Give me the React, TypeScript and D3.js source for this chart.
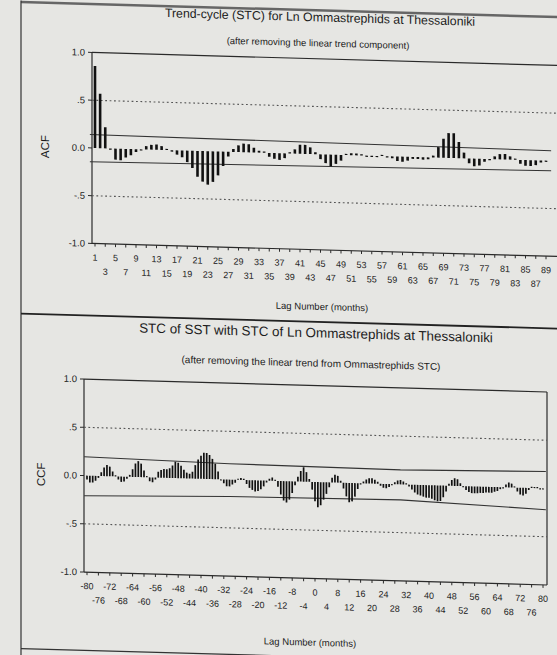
import * as d3 from "d3";

// ACF of the trend-cycle, lags 1..89
const acfValues = [
    0.86, 0.57, 0.22, -0.01, -0.115, -0.12, -0.09, -0.065, -0.03, -0.01,
    0.035, 0.05, 0.055, 0.04, 0.0, -0.015, -0.045, -0.07, -0.12, -0.18,
    -0.27, -0.32, -0.35, -0.32, -0.25, -0.15, -0.05, 0.03, 0.07, 0.09,
    0.085, 0.05, 0.02, 0.0, -0.04, -0.06, -0.07, -0.05, 0.0, 0.045,
    0.095, 0.095, 0.07, 0.02, -0.05, -0.09, -0.12, -0.095, -0.06, 0.0,
    0.02, 0.02, 0.0, -0.01, -0.01, -0.01, 0.0, -0.01, -0.02, -0.048,
    -0.053, -0.04, -0.02, -0.02, -0.025, -0.02, 0.02, 0.11, 0.2, 0.26,
    0.26, 0.17, 0.06, -0.05, -0.08, -0.07, -0.03, -0.01, 0.03, 0.055,
    0.057, 0.034, 0.01, -0.04, -0.06, -0.06, -0.05, -0.02, -0.01,
];
const acfLags = acfValues.map((_, i) => i + 1);
const acfTicksRow1 = [1, 5, 9, 13, 17, 21, 25, 29, 33, 37, 41, 45, 49, 53, 57, 61, 65, 69, 73, 77, 81, 85, 89];
const acfTicksRow2 = [3, 7, 11, 15, 19, 23, 27, 31, 35, 39, 43, 47, 51, 55, 59, 63, 67, 71, 75, 79, 83, 87];
const acfConfLags = [0, 90];
const acfConfUpper = [0.14, 0.105];
const acfConfLower = [-0.145, -0.105];

// CCF of SST STC with Ln Ommastrephids STC, lags -80..80
const ccfValues = [
    -0.04, -0.07, -0.07, -0.05, -0.02, 0.04, 0.09, 0.115, 0.1, 0.05,
    0.01, -0.03, -0.055, -0.05, -0.02, 0.02, 0.08, 0.14, 0.165, 0.14,
    0.07, 0.01, -0.04, -0.05, -0.02, 0.06, 0.08, 0.09, 0.09, 0.1,
    0.13, 0.17, 0.16, 0.13, 0.09, 0.06, 0.05, 0.07, 0.14, 0.2,
    0.24, 0.27, 0.27, 0.25, 0.21, 0.16, 0.08, -0.01, -0.04, -0.07,
    -0.07, -0.05, -0.03, 0.0, 0.02, 0.01, -0.04, -0.08, -0.1, -0.115,
    -0.11, -0.09, -0.06, -0.02, 0.02, 0.035, 0.0, -0.06, -0.14, -0.2,
    -0.22, -0.19, -0.12, -0.04, 0.05, 0.11, 0.15, 0.1, 0.03, -0.08,
    -0.2, -0.26, -0.24, -0.18, -0.12, -0.05, 0.05, 0.08, 0.07, 0.02,
    -0.06, -0.14, -0.2, -0.19, -0.14, -0.06, -0.01, 0.02, 0.04, 0.055,
    0.055, 0.04, 0.02, -0.02, -0.04, -0.045, -0.03, -0.01, 0.02, 0.04,
    0.045, 0.03, 0.01, -0.02, -0.05, -0.08, -0.1, -0.11, -0.12, -0.13,
    -0.13, -0.14, -0.155, -0.165, -0.16, -0.12, -0.06, 0.02, 0.06, 0.08,
    0.07, 0.03, -0.01, -0.04, -0.06, -0.07, -0.07, -0.07, -0.065, -0.065,
    -0.06, -0.06, -0.06, -0.05, -0.04, -0.02, -0.01, 0.03, 0.05, 0.04,
    0.01, -0.04, -0.07, -0.08, -0.06, -0.02, 0.01, 0.01, 0.0, -0.01,
    -0.01,
];
const ccfLags = ccfValues.map((_, i) => i - 80);
const ccfTicksRow1 = [-80, -72, -64, -56, -48, -40, -32, -24, -16, -8, 0, 8, 16, 24, 32, 40, 48, 56, 64, 72, 80];
const ccfTicksRow2 = [-76, -68, -60, -52, -44, -36, -28, -20, -12, -4, 4, 12, 20, 28, 36, 44, 52, 60, 68, 76];
const ccfConfLags = [-81, -30, 30, 81];
const ccfConfUpper = [0.195, 0.165, 0.15, 0.175];
const ccfConfLower = [-0.21, -0.175, -0.16, -0.22];

const yTicks = [1, 0.5, 0, -0.5, -1];
const yTickLabels = ["1.0", ".5", "0.0", "-.5", "-1.0"];

const FONT = "'Liberation Sans', Arial, sans-serif";
const INK = "#1c1c1c";
const BG = "#e6e6e3";

interface PlotProps {
    lags: number[];
    values: number[];
    row1: number[];
    row2: number[];
    confLags: number[];
    confUpper: number[];
    confLower: number[];
    x: d3.ScaleLinear<number, number>;
    y: d3.ScaleLinear<number, number>;
    left: number;
    right: number;
    barWidth: number;
    yLabel: string;
    yLabelX: number;
    showRight: boolean;
}

function CorrPlot({
    lags,
    values,
    row1,
    row2,
    confLags,
    confUpper,
    confLower,
    x,
    y,
    left,
    right,
    barWidth,
    yLabel,
    yLabelX,
    showRight,
}: PlotProps) {
    const top = y(1);
    const bottom = y(-1);
    const zero = y(0);

    const line = d3
        .line<[number, number]>()
        .x((d) => x(d[0]))
        .y((d) => y(d[1]));

    const upper = line(confLags.map((l, i) => [l, confUpper[i]]));
    const lower = line(confLags.map((l, i) => [l, confLower[i]]));

    return (
        <g>
            {/* frame */}
            <line x1={left} x2={right} y1={top} y2={top} stroke="#2a2a2a" strokeWidth={1.2} />
            <line x1={left} x2={right} y1={bottom} y2={bottom} stroke="#2a2a2a" strokeWidth={1.2} />
            <line x1={left} x2={left} y1={top} y2={bottom} stroke="#2a2a2a" strokeWidth={1.2} />
            {showRight && (
                <line x1={right} x2={right} y1={top} y2={bottom} stroke="#2a2a2a" strokeWidth={1.2} />
            )}

            {/* reference lines at +-.5 */}
            {[0.5, -0.5].map((v) => (
                <line
                    key={v}
                    x1={left}
                    x2={right}
                    y1={y(v)}
                    y2={y(v)}
                    stroke="#555"
                    strokeWidth={1.1}
                    strokeDasharray="1.8,2.6"
                />
            ))}

            {/* confidence limits */}
            <path d={upper ?? ""} fill="none" stroke="#333" strokeWidth={1.1} />
            <path d={lower ?? ""} fill="none" stroke="#333" strokeWidth={1.1} />

            {/* bars */}
            {lags.map((l, i) => {
                const v = values[i];
                const yv = y(v);
                const h = Math.max(Math.abs(yv - zero), 1.2);
                return (
                    <rect
                        key={l}
                        x={x(l) - barWidth / 2}
                        y={v >= 0 ? zero - h : zero}
                        width={barWidth}
                        height={h}
                        fill="#111"
                    />
                );
            })}

            {/* y axis */}
            {yTicks.map((t, i) => (
                <g key={t}>
                    <line x1={left - 4} x2={left} y1={y(t)} y2={y(t)} stroke="#2a2a2a" />
                    <text
                        x={left - 7}
                        y={y(t)}
                        dy="0.35em"
                        textAnchor="end"
                        fontFamily={FONT}
                        fontSize={9.5}
                        fill={INK}
                    >
                        {yTickLabels[i]}
                    </text>
                </g>
            ))}
            <text
                transform={`translate(${yLabelX},${zero}) rotate(-90)`}
                textAnchor="middle"
                fontFamily={FONT}
                fontSize={11.5}
                fill={INK}
            >
                {yLabel}
            </text>

            {/* x axis */}
            {[...row1, ...row2].map((t) => (
                <line key={t} x1={x(t)} x2={x(t)} y1={bottom} y2={bottom + 3} stroke="#2a2a2a" />
            ))}
            {row1.map((t) => (
                <text key={t} x={x(t)} y={bottom + 17} textAnchor="middle" fontFamily={FONT} fontSize={9} fill={INK}>
                    {t}
                </text>
            ))}
            {row2.map((t) => (
                <text key={t} x={x(t)} y={bottom + 31} textAnchor="middle" fontFamily={FONT} fontSize={9} fill={INK}>
                    {t}
                </text>
            ))}
        </g>
    );
}

export default function App() {
    const width = 557;
    const height = 655;

    const acfX = d3.scaleLinear().domain([1, 89]).range([95, 546]);
    const acfY = d3.scaleLinear().domain([-1, 1]).range([240.9, 49.9]);
    const ccfX = d3.scaleLinear().domain([-80, 80]).range([87, 543]);
    const ccfY = d3.scaleLinear().domain([-1, 1]).range([569.7, 376.7]);

    return (
        <svg
            width={width}
            height={height}
            style={{ position: "absolute", left: 0, top: 0, background: BG }}
        >
            <rect width={width} height={height} fill={BG} />
            {/* the scanned page is slightly skewed */}
            <g transform="skewY(1.6)">
                <line x1={21} x2={width} y1={1.5} y2={1.5} stroke="#666" strokeWidth={2.5} />
                <line x1={21} x2={21} y1={0} y2={660} stroke="#333" strokeWidth={1.2} />
                <line x1={21} x2={width} y1={313} y2={313} stroke="#222" strokeWidth={1.8} />
                <line x1={21} x2={width} y1={648} y2={648} stroke="#333" strokeWidth={1.2} />

                <text x={320} y={12.5} textAnchor="middle" fontFamily={FONT} fontSize={12.3} fill={INK}>
                    Trend-cycle (STC)  for Ln Ommastrephids at Thessaloniki
                </text>
                <text x={318} y={37.5} textAnchor="middle" fontFamily={FONT} fontSize={9.5} fill={INK}>
                    (after removing the linear trend component)
                </text>
                <CorrPlot
                    lags={acfLags}
                    values={acfValues}
                    row1={acfTicksRow1}
                    row2={acfTicksRow2}
                    confLags={acfConfLags}
                    confUpper={acfConfUpper}
                    confLower={acfConfLower}
                    x={acfX}
                    y={acfY}
                    left={92}
                    right={560}
                    barWidth={2.6}
                    yLabel="ACF"
                    yLabelX={49}
                    showRight={false}
                />
                <text x={322} y={301} textAnchor="middle" fontFamily={FONT} fontSize={9.5} fill={INK}>
                    Lag Number (months)
                </text>

                <text x={316} y={328.5} textAnchor="middle" fontFamily={FONT} fontSize={13.4} fill={INK}>
                    STC of SST with STC of Ln Ommastrephids at Thessaloniki
                </text>
                <text x={311} y={357.8} textAnchor="middle" fontFamily={FONT} fontSize={10} fill={INK}>
                    (after removing the linear trend from Ommastrephids STC)
                </text>
                <CorrPlot
                    lags={ccfLags}
                    values={ccfValues}
                    row1={ccfTicksRow1}
                    row2={ccfTicksRow2}
                    confLags={ccfConfLags}
                    confUpper={ccfConfUpper}
                    confLower={ccfConfLower}
                    x={ccfX}
                    y={ccfY}
                    left={84}
                    right={547}
                    barWidth={1.7}
                    yLabel="CCF"
                    yLabelX={45}
                    showRight={true}
                />
                <text x={310} y={637} textAnchor="middle" fontFamily={FONT} fontSize={9.5} fill={INK}>
                    Lag Number (months)
                </text>
            </g>
        </svg>
    );
}
